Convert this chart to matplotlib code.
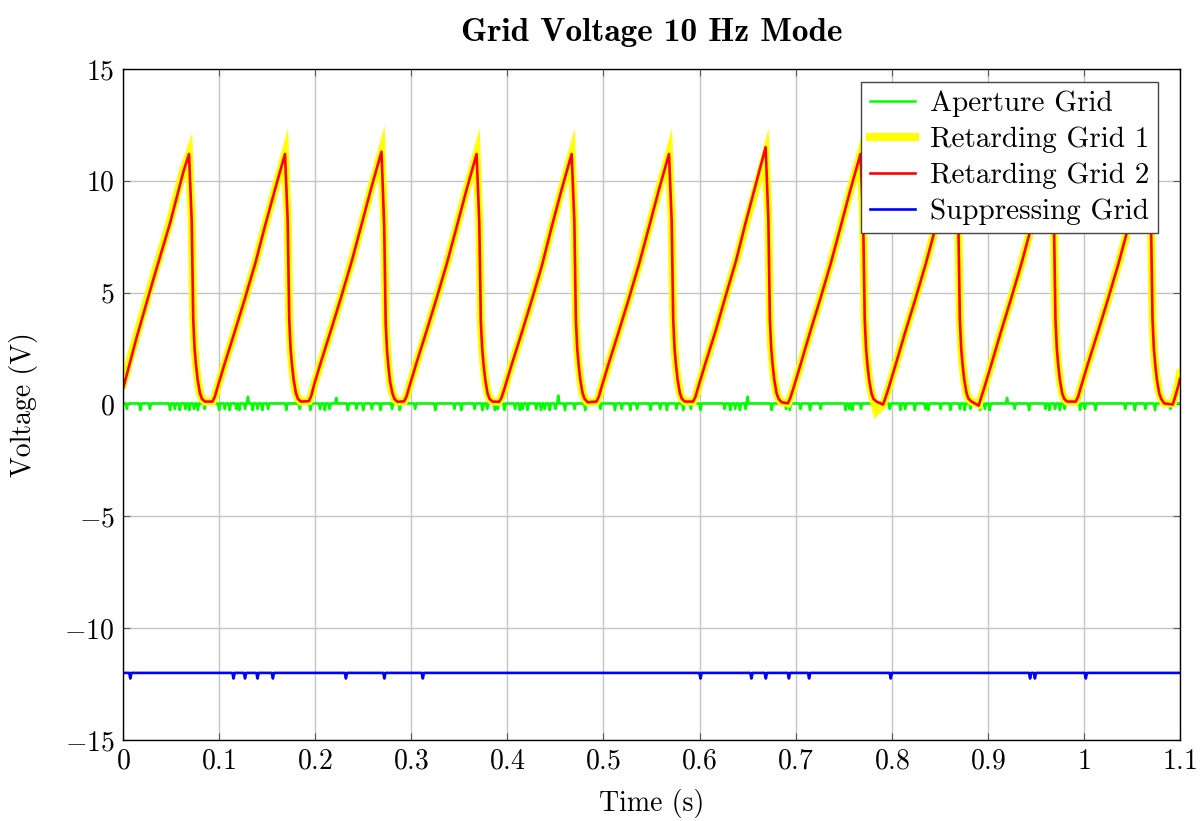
import matplotlib
matplotlib.use('Agg')
import matplotlib.pyplot as plt

plt.rcParams['font.family'] = 'serif'
plt.rcParams['font.serif'] = ['cmr10']
plt.rcParams['mathtext.fontset'] = 'cm'
plt.rcParams['axes.formatter.use_mathtext'] = True

# ---------------- data ----------------
# Retarding grids (sawtooth), times in s
t_ret = [
    0.0000, 0.0142, 0.0316, 0.0489, 0.0628, 0.0687, 0.0715, 0.0731, 0.0745, 0.0759, 0.0777, 0.0801, 0.0822, 0.0853,
    0.0931, 0.0956, 0.0986, 0.1056, 0.1166, 0.1266, 0.1376, 0.1476, 0.1581, 0.1686, 0.1714, 0.1730, 0.1744, 0.1758, 0.1776, 0.1800, 0.1821, 0.1852,
    0.1935, 0.1960, 0.1990, 0.2060, 0.2170, 0.2270, 0.2380, 0.2480, 0.2585, 0.2690, 0.2718, 0.2734, 0.2748, 0.2762, 0.2780, 0.2804, 0.2825, 0.2856,
    0.2925, 0.2950, 0.2980, 0.3050, 0.3160, 0.3260, 0.3370, 0.3470, 0.3575, 0.3680, 0.3708, 0.3724, 0.3738, 0.3752, 0.3770, 0.3794, 0.3815, 0.3846,
    0.3914, 0.3939, 0.3969, 0.4039, 0.4149, 0.4249, 0.4359, 0.4459, 0.4564, 0.4669, 0.4697, 0.4713, 0.4727, 0.4741, 0.4759, 0.4783, 0.4804, 0.4835,
    0.4927, 0.4952, 0.4982, 0.5052, 0.5162, 0.5262, 0.5372, 0.5472, 0.5577, 0.5682, 0.5710, 0.5726, 0.5740, 0.5754, 0.5772, 0.5796, 0.5817, 0.5848,
    0.5933, 0.5958, 0.5988, 0.6058, 0.6168, 0.6268, 0.6378, 0.6478, 0.6583, 0.6688, 0.6716, 0.6732, 0.6746, 0.6760, 0.6778, 0.6802, 0.6823, 0.6854,
    0.6920, 0.6945, 0.6975, 0.7045, 0.7155, 0.7255, 0.7365, 0.7465, 0.7570, 0.7675, 0.7703, 0.7719, 0.7733, 0.7747, 0.7765, 0.7789, 0.7810, 0.7841,
    0.7910, 0.7935, 0.7965, 0.8035, 0.8145, 0.8245, 0.8355, 0.8455, 0.8560, 0.8665, 0.8693, 0.8709, 0.8723, 0.8737, 0.8755, 0.8779, 0.8800, 0.8831,
    0.8905, 0.8930, 0.8960, 0.9030, 0.9140, 0.9240, 0.9350, 0.9450, 0.9555, 0.9660, 0.9688, 0.9704, 0.9718, 0.9732, 0.9750, 0.9774, 0.9795, 0.9826,
    0.9915, 0.9940, 0.9970, 1.0040, 1.0150, 1.0250, 1.0360, 1.0460, 1.0565, 1.0670, 1.0698, 1.0714, 1.0728, 1.0742, 1.0760, 1.0784, 1.0805, 1.0836,
    1.0925, 1.0950, 1.0980, 1.1000,
]
v_rg2 = [
    0.70, 3.00, 5.60, 8.10, 10.40, 11.20, 8.20, 3.80, 2.50, 1.80, 1.10, 0.50, 0.25, 0.13,
    0.13, 0.35, 0.80, 1.80, 3.30, 4.70, 6.30, 7.95, 9.60, 11.20, 8.20, 3.80, 2.50, 1.80, 1.10, 0.50, 0.25, 0.13,
    0.15, 0.40, 0.90, 1.90, 3.40, 4.80, 6.40, 8.00, 9.70, 11.30, 8.00, 3.60, 2.40, 1.70, 1.00, 0.50, 0.25, 0.12,
    0.14, 0.35, 0.80, 1.80, 3.30, 4.70, 6.30, 7.90, 9.60, 11.20, 8.10, 3.70, 2.50, 1.80, 1.10, 0.50, 0.25, 0.13,
    0.12, 0.30, 0.70, 1.70, 3.20, 4.60, 6.20, 7.90, 9.60, 11.20, 8.20, 3.80, 2.50, 1.80, 1.10, 0.50, 0.25, 0.10,
    0.13, 0.35, 0.80, 1.80, 3.30, 4.70, 6.30, 7.90, 9.60, 11.20, 8.20, 3.80, 2.50, 1.80, 1.10, 0.50, 0.25, 0.13,
    0.13, 0.35, 0.80, 1.80, 3.30, 4.80, 6.40, 8.10, 9.80, 11.50, 8.30, 3.80, 2.50, 1.80, 1.10, 0.50, 0.25, 0.10,
    0.05, 0.30, 0.70, 1.70, 3.30, 4.70, 6.30, 7.90, 9.60, 11.20, 8.20, 3.80, 2.50, 1.80, 1.10, 0.50, 0.25, 0.13,
    0.00, 0.30, 0.70, 1.70, 3.30, 4.70, 6.30, 7.90, 9.60, 11.20, 8.20, 3.80, 2.50, 1.80, 1.10, 0.50, 0.25, 0.13,
    -0.05, 0.30, 0.70, 1.70, 3.30, 4.70, 6.30, 7.90, 9.60, 11.20, 8.20, 3.80, 2.50, 1.80, 1.10, 0.50, 0.25, 0.13,
    0.13, 0.35, 0.80, 1.80, 3.30, 4.70, 6.30, 7.90, 9.60, 11.20, 8.20, 3.80, 2.50, 1.80, 1.10, 0.50, 0.25, 0.05,
    0.00, 0.35, 0.80, 1.15,
]
v_rg1 = [
    0.90, 3.10, 5.70, 8.20, 10.50, 11.20, 8.20, 3.80, 2.50, 1.80, 1.10, 0.50, 0.25, 0.13,
    0.13, 0.35, 0.80, 1.80, 3.30, 4.70, 6.30, 7.95, 9.60, 11.20, 8.20, 3.80, 2.50, 1.80, 1.10, 0.50, 0.25, 0.13,
    0.15, 0.40, 0.90, 1.90, 3.40, 4.80, 6.40, 8.00, 9.70, 11.30, 8.00, 3.60, 2.40, 1.70, 1.00, 0.50, 0.25, 0.12,
    0.14, 0.35, 0.80, 1.80, 3.30, 4.70, 6.30, 7.90, 9.60, 11.20, 8.10, 3.70, 2.50, 1.80, 1.10, 0.50, 0.25, 0.13,
    0.12, 0.30, 0.70, 1.70, 3.20, 4.60, 6.20, 7.90, 9.60, 11.20, 8.20, 3.80, 2.50, 1.80, 1.10, 0.50, 0.25, 0.10,
    0.13, 0.35, 0.80, 1.80, 3.30, 4.70, 6.30, 7.90, 9.60, 11.20, 8.20, 3.80, 2.50, 1.80, 1.10, 0.50, 0.25, 0.13,
    0.13, 0.35, 0.80, 1.80, 3.30, 4.80, 6.40, 8.00, 9.60, 11.20, 8.30, 3.80, 2.50, 1.80, 1.10, 0.50, 0.25, 0.10,
    0.05, 0.30, 0.70, 1.70, 3.30, 4.70, 6.30, 7.90, 9.60, 11.20, 8.20, 3.80, 2.50, 1.80, 1.10, 0.50, 0.20, -0.30,
    0.00, 0.30, 0.70, 1.70, 3.30, 4.70, 6.30, 7.90, 9.60, 11.20, 8.20, 3.80, 2.50, 1.80, 1.10, 0.50, 0.25, 0.13,
    0.00, 0.30, 0.70, 1.70, 3.30, 4.70, 6.30, 7.90, 9.60, 11.20, 8.20, 3.80, 2.50, 1.80, 1.10, 0.50, 0.25, 0.13,
    0.13, 0.35, 0.80, 1.80, 3.30, 4.70, 6.30, 7.90, 9.60, 11.20, 8.20, 3.80, 2.50, 1.80, 1.10, 0.50, 0.25, 0.05,
    0.05, 0.45, 0.90, 1.40,
]

# Aperture grid: baseline with short glitches
ap_base = 0.05
ap_glitch_t = [
    0.004, 0.018, 0.028, 0.049, 0.054, 0.059, 0.065, 0.069, 0.074, 0.078, 0.085, 0.100,
    0.106, 0.111, 0.118, 0.121, 0.127, 0.130, 0.135, 0.140, 0.145, 0.151, 0.170, 0.184,
    0.195, 0.205, 0.210, 0.215, 0.222, 0.234, 0.243, 0.250, 0.259, 0.268, 0.280, 0.288,
    0.304, 0.325, 0.345, 0.352, 0.366, 0.374, 0.379, 0.387, 0.390, 0.397, 0.408, 0.413,
    0.416, 0.421, 0.430, 0.435, 0.439, 0.444, 0.450, 0.453, 0.460, 0.470, 0.481, 0.497,
    0.512, 0.519, 0.528, 0.535, 0.549, 0.559, 0.566, 0.576, 0.583, 0.591, 0.601, 0.626,
    0.632, 0.637, 0.642, 0.648, 0.650, 0.675, 0.690, 0.694, 0.705, 0.715, 0.726, 0.752,
    0.756, 0.759, 0.768, 0.788, 0.798, 0.809, 0.814, 0.824, 0.835, 0.838, 0.851, 0.861,
    0.871, 0.876, 0.882, 0.892, 0.897, 0.902, 0.920, 0.928, 0.943, 0.960, 0.964, 0.970,
    0.975, 0.980, 0.996, 1.001, 1.012, 1.043, 1.053, 1.064, 1.074, 1.090,
]
ap_glitch_v = [
    -0.20, -0.25, -0.20, -0.25, -0.20, -0.25, -0.20, -0.25, -0.20, -0.25, -0.20, -0.25,
    -0.20, -0.25, -0.20, -0.25, -0.20, 0.35, -0.25, -0.20, -0.25, -0.20, -0.25, -0.20,
    -0.25, -0.20, -0.25, -0.20, 0.30, -0.25, -0.20, -0.25, -0.20, -0.25, -0.20, -0.25,
    -0.20, -0.25, -0.20, -0.25, -0.20, -0.25, -0.20, -0.25, -0.20, -0.25, -0.20, -0.25,
    -0.20, -0.25, -0.20, -0.25, -0.20, -0.25, -0.20, 0.40, -0.25, -0.20, -0.25, -0.20,
    -0.25, -0.20, -0.25, -0.20, -0.25, -0.20, -0.25, -0.20, -0.25, -0.20, -0.25, -0.20,
    -0.25, -0.20, -0.25, -0.20, 0.35, -0.25, -0.20, -0.25, -0.20, -0.25, -0.20, -0.25,
    -0.20, -0.25, -0.20, -0.25, -0.20, -0.25, -0.20, -0.25, -0.20, -0.25, -0.20, -0.25,
    -0.20, -0.25, -0.20, -0.25, -0.20, -0.25, 0.30, -0.20, -0.25, -0.20, -0.25, -0.20,
    -0.25, -0.20, -0.25, -0.20, -0.25, -0.20, -0.25, -0.20, -0.25, -0.20,
]

# Suppressing grid: constant -12 V with short dips
sg_base = -12.0
sg_glitch_t = [0.0076, 0.115, 0.127, 0.140, 0.156, 0.232, 0.272, 0.312,
               0.601, 0.654, 0.669, 0.693, 0.714, 0.799, 0.944, 0.949, 1.002]
sg_glitch_v = [-12.25] * len(sg_glitch_t)

x_ticks = [0, 0.1, 0.2, 0.3, 0.4, 0.5, 0.6, 0.7, 0.8, 0.9, 1.0, 1.1]
x_ticklabels = ['0', '0.1', '0.2', '0.3', '0.4', '0.5', '0.6', '0.7', '0.8', '0.9', '1', '1.1']
y_ticks = [-15, -10, -5, 0, 5, 10, 15]
y_ticklabels = ['-15', '-10', '-5', '0', '5', '10', '15']


def glitch_series(base, times, levels, x0, x1, hw=0.0012):
    xs, ys = [x0], [base]
    for t, v in zip(times, levels):
        xs += [t - hw, t, t + hw]
        ys += [base, v, base]
    xs.append(x1)
    ys.append(base)
    return xs, ys


FS = 20
fig = plt.figure(figsize=(12.02, 8.21), dpi=100)
ax = fig.add_axes([123 / 1202, 81 / 821, 1057 / 1202, 671 / 821])

ap_x, ap_y = glitch_series(ap_base, ap_glitch_t, ap_glitch_v, 0.0, 1.1)
sg_x, sg_y = glitch_series(sg_base, sg_glitch_t, sg_glitch_v, 0.0, 1.1)

ax.plot(ap_x, ap_y, color='#00ff00', lw=1.8, label='Aperture Grid', zorder=3)
ax.plot(t_ret, v_rg1, color='#ffff00', lw=5.8, label='Retarding Grid 1', zorder=4,
        solid_joinstyle='miter')
ax.plot(t_ret, v_rg2, color='#ff0000', lw=1.9, label='Retarding Grid 2', zorder=5)
ax.plot(sg_x, sg_y, color='#0000ff', lw=1.9, label='Suppressing Grid', zorder=5)

ax.set_xlim(0, 1.1)
ax.set_ylim(-15, 15)
ax.set_xticks(x_ticks)
ax.set_xticklabels(['$' + s + '$' for s in x_ticklabels], fontsize=FS)
ax.set_yticks(y_ticks)
ax.set_yticklabels(['$' + s + '$' for s in y_ticklabels], fontsize=FS)
ax.tick_params(direction='in', length=5, width=0.8, top=True, right=True, pad=6,
               color='#555555')
ax.grid(True, color='#c4c4c4', lw=1.0)
ax.set_axisbelow(True)
for s in ax.spines.values():
    s.set_linewidth(1.0)
    s.set_zorder(10)

ax.set_xlabel('Time (s)', fontsize=FS, labelpad=10)
ax.set_ylabel('Voltage (V)', fontsize=FS, labelpad=19)
ax.set_title('Grid Voltage 10 Hz Mode', fontsize=24, family='cmb10', pad=20)

leg = ax.legend(loc='upper right', bbox_to_anchor=(1 - 22 / 1057, 1 - 13 / 671),
                borderaxespad=0, fancybox=False, framealpha=1, edgecolor='#444444',
                fontsize=21, handlelength=1.55, handletextpad=0.5, labelspacing=0.32,
                borderpad=0.3)
leg.get_frame().set_linewidth(1.0)
leg.set_zorder(20)

fig.savefig('out.png', dpi=100)
